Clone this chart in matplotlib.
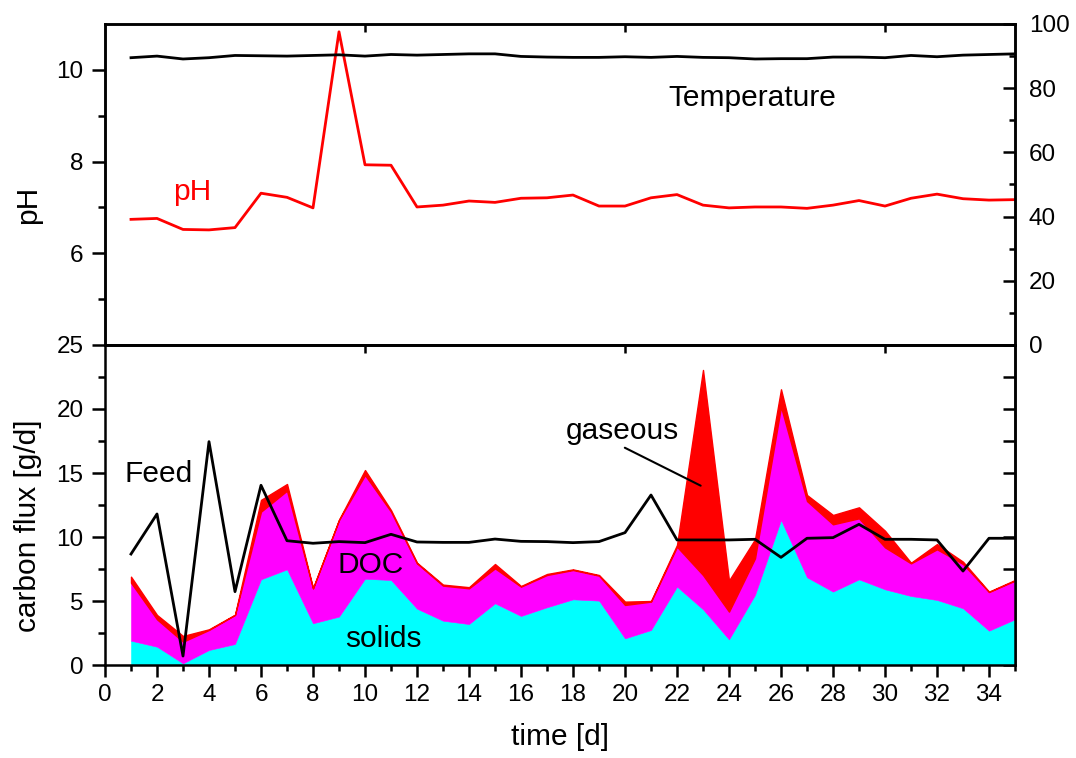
import matplotlib
matplotlib.use('Agg')
import matplotlib.pyplot as plt
from matplotlib.ticker import MultipleLocator, FixedLocator
import numpy as np

plt.rcParams['font.family'] = ['Liberation Sans', 'DejaVu Sans']

# ---------------- data ----------------
days = list(range(1, 36))

ph = [6.74, 6.76, 6.52, 6.51, 6.56, 7.31, 7.22, 6.99, 10.83, 7.93,
      7.92, 7.01, 7.05, 7.14, 7.11, 7.20, 7.21, 7.27, 7.03, 7.03,
      7.21, 7.28, 7.05, 6.99, 7.01, 7.01, 6.98, 7.05, 7.15, 7.03,
      7.20, 7.29, 7.19, 7.16, 7.17]

temperature = [89.5, 90.0, 89.1, 89.5, 90.2, 90.1, 90.0, 90.2, 90.4, 90.0,
               90.5, 90.3, 90.5, 90.7, 90.7, 89.9, 89.7, 89.6, 89.6, 89.8,
               89.6, 89.9, 89.6, 89.5, 89.1, 89.2, 89.2, 89.7, 89.7, 89.5,
               90.2, 89.8, 90.3, 90.5, 90.7]

solids = [1.90, 1.43, 0.13, 1.17, 1.64, 6.69, 7.47, 3.26, 3.78, 6.74,
          6.64, 4.40, 3.46, 3.20, 4.82, 3.83, 4.51, 5.13, 5.03, 2.08,
          2.73, 6.12, 4.35, 2.00, 5.47, 11.33, 6.85, 5.73, 6.69, 5.91,
          5.39, 5.08, 4.43, 2.68, 3.57]

doc = [4.53, 2.14, 1.69, 1.57, 2.27, 5.29, 6.15, 2.73, 7.55, 8.10,
       5.34, 3.54, 2.74, 2.79, 2.73, 2.29, 2.52, 2.29, 1.95, 2.61,
       2.22, 3.12, 2.68, 2.17, 2.86, 8.85, 5.96, 5.26, 4.77, 3.28,
       2.55, 3.96, 3.46, 3.02, 3.02]

gaseous = [0.47, 0.34, 0.45, 0.05, 0.02, 0.92, 0.52, 0.01, 0.02, 0.39,
           0.12, 0.05, 0.08, 0.09, 0.34, 0.05, 0.08, 0.05, 0.05, 0.26,
           0.05, 0.14, 16.02, 2.43, 1.49, 1.36, 0.47, 0.73, 0.86, 1.30,
           0.05, 0.41, 0.18, 0.03, 0.05]

feed = [8.67, 11.80, 0.70, 17.45, 5.73, 14.04, 9.71, 9.51, 9.64, 9.56,
        10.21, 9.61, 9.58, 9.58, 9.84, 9.66, 9.64, 9.56, 9.64, 10.34,
        13.28, 9.77, 9.77, 9.77, 9.82, 8.41, 9.90, 9.95, 10.99, 9.82,
        9.82, 9.77, 7.34, 9.90, 9.90]

# ---------------- figure ----------------
W_PX, H_PX = 1076, 758
fig = plt.figure(figsize=(W_PX / 100, H_PX / 100), dpi=100)
left = 105 / W_PX
width = 910 / W_PX
ax1 = fig.add_axes([left, 1 - 345 / H_PX, width, 321 / H_PX])
ax2 = fig.add_axes([left, 1 - 665 / H_PX, width, 320 / H_PX])

SPINE_W = 1.8
LINE_W = 2.0
TICK_FS = 17.5
TEXT_FS = 21.5

# ---------------- top panel: pH + temperature ----------------
ax1.plot(days, ph, color='#ff0000', lw=LINE_W)
ax1.set_xlim(0, 35)
ax1.set_ylim(4, 11)
ax1.yaxis.set_major_locator(FixedLocator([6, 8, 10]))
ax1.yaxis.set_minor_locator(FixedLocator([5, 7, 9]))
ax1.tick_params(axis='y', which='major', direction='out', length=9.5,
                width=SPINE_W, labelsize=TICK_FS, pad=6)
ax1.tick_params(axis='y', which='minor', direction='out', length=5,
                width=SPINE_W)
ax1.xaxis.set_major_locator(FixedLocator([10, 20, 30]))
ax1.xaxis.set_minor_locator(FixedLocator([]))
ax1.tick_params(axis='x', which='both', bottom=False, top=True,
                labelbottom=False, labeltop=False, direction='in',
                length=6, width=SPINE_W)
ax1.set_ylabel('pH', fontsize=TEXT_FS)
ax1.yaxis.set_label_coords(-0.069, 0.436)
ax1.text(3.35, 7.17, 'pH', color='#ff0000', fontsize=TEXT_FS,
         ha='center', va='baseline')
ax1.text(24.9, 9.22, 'Temperature', color='black', fontsize=TEXT_FS,
         ha='center', va='baseline')

ax1r = ax1.twinx()
ax1r.plot(days, temperature, color='black', lw=LINE_W)
ax1r.set_ylim(0, 100)
ax1r.yaxis.set_major_locator(MultipleLocator(20))
ax1r.yaxis.set_minor_locator(MultipleLocator(10))
ax1r.tick_params(axis='y', which='major', direction='in', length=9,
                 width=SPINE_W, labelsize=TICK_FS, pad=10)
ax1r.tick_params(axis='y', which='minor', direction='in', length=4.5,
                 width=SPINE_W)

for a in (ax1, ax1r):
    for s in a.spines.values():
        s.set_linewidth(SPINE_W)

# ---------------- bottom panel: carbon fluxes ----------------
s_top = np.array(solids)
d_top = s_top + np.array(doc)
g_top = d_top + np.array(gaseous)

ax2.fill_between(days, 0, s_top, facecolor='#00ffff', edgecolor='#00ffff',
                 lw=0.4)
ax2.fill_between(days, s_top, d_top, facecolor='#ff00ff',
                 edgecolor='#ff00ff', lw=0.4)
ax2.fill_between(days, d_top, g_top, facecolor='#ff0000',
                 edgecolor='#ff0000', lw=1.0)
ax2.plot(days, feed, color='black', lw=LINE_W)

ax2.set_xlim(0, 35)
ax2.set_ylim(0, 25)
ax2.xaxis.set_major_locator(MultipleLocator(2))
ax2.xaxis.set_minor_locator(MultipleLocator(1))
ax2.yaxis.set_major_locator(MultipleLocator(5))
ax2.yaxis.set_minor_locator(MultipleLocator(2.5))
ax2.tick_params(axis='x', which='major', direction='out', length=8.5,
                width=SPINE_W, labelsize=TICK_FS, pad=5)
ax2.tick_params(axis='x', which='minor', direction='out', length=4.5,
                width=SPINE_W)
ax2.tick_params(axis='y', which='major', direction='out', length=9.5,
                width=SPINE_W, labelsize=TICK_FS, pad=6)
ax2.tick_params(axis='y', which='minor', direction='out', length=5,
                width=SPINE_W)
for s in ax2.spines.values():
    s.set_linewidth(SPINE_W)

sec_x = ax2.secondary_xaxis('top')
sec_x.set_xticks([10, 20, 30])
sec_x.tick_params(axis='x', which='both', direction='in', length=6,
                  width=SPINE_W, labeltop=False)
sec_x.spines['top'].set_linewidth(SPINE_W)

sec_y = ax2.secondary_yaxis('right')
sec_y.set_yticks(list(np.arange(0, 25.01, 2.5)))
sec_y.tick_params(axis='y', which='both', direction='in', length=8.5,
                  width=SPINE_W, labelright=False)
sec_y.spines['right'].set_linewidth(SPINE_W)

ax2.set_xlabel('time [d]', fontsize=TEXT_FS)
ax2.xaxis.set_label_coords(0.5, -0.181)
ax2.set_ylabel('carbon flux [g/d]', fontsize=TEXT_FS)
ax2.yaxis.set_label_coords(-0.069, 0.434)

ax2.text(2.08, 14.3, 'Feed', fontsize=TEXT_FS, ha='center', va='baseline')
ax2.text(10.2, 7.19, 'DOC', fontsize=TEXT_FS, ha='center', va='baseline')
ax2.text(10.7, 1.41, 'solids', fontsize=TEXT_FS, ha='center', va='baseline')
ax2.annotate('gaseous', xy=(22.91, 14.01), xytext=(19.91, 17.66),
             fontsize=TEXT_FS, ha='center', va='baseline',
             arrowprops=dict(arrowstyle='-', color='black', lw=1.5,
                             relpos=(0.47, 0.0), shrinkA=0, shrinkB=0))

fig.savefig('out.png', dpi=100)
